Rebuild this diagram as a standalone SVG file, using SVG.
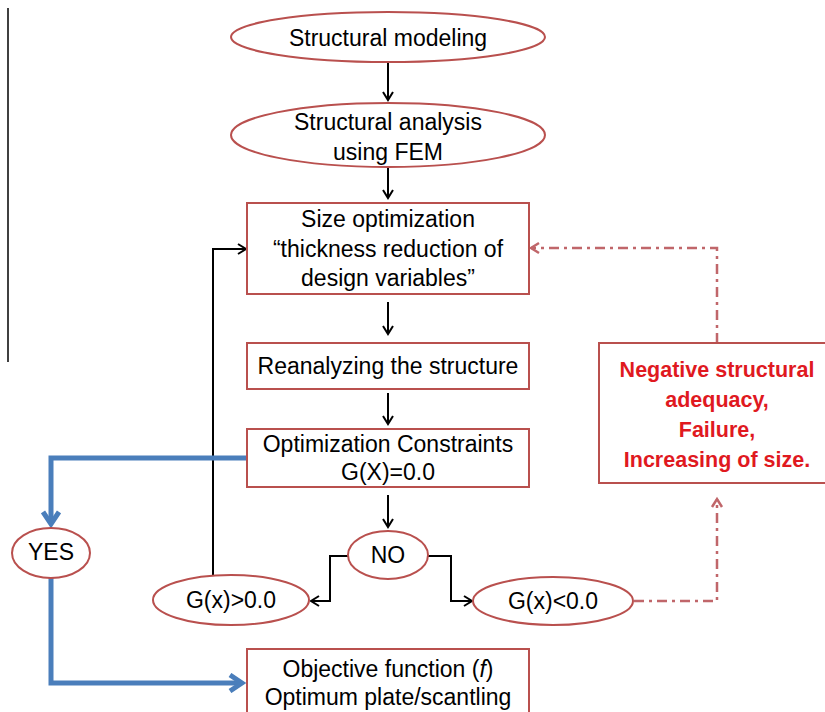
<svg xmlns="http://www.w3.org/2000/svg" width="825" height="712" viewBox="0 0 825 712">
<defs>
<style>
.n{fill:#fff;stroke:#b9504e;stroke-width:2}
.t{font-family:"Liberation Sans",Arial,sans-serif;font-size:23px;fill:#000;text-anchor:middle}
.r{font-family:"Liberation Sans",Arial,sans-serif;font-size:21.5px;font-weight:bold;fill:#e0191f;text-anchor:middle}
.k{fill:none;stroke:#000;stroke-width:2}
.b{fill:none;stroke:#4a7ebb;stroke-width:5}
.d{fill:none;stroke:#c0666a;stroke-width:2.5;stroke-dasharray:10,5,3,5}
</style>
<marker id="ak" markerWidth="12" markerHeight="12" refX="10" refY="6" orient="auto" markerUnits="userSpaceOnUse">
<path d="M2,1 L10,6 L2,11" fill="none" stroke="#000" stroke-width="2"/>
</marker>
<marker id="ab" markerWidth="20" markerHeight="20" refX="16" refY="10" orient="auto" markerUnits="userSpaceOnUse">
<path d="M4,2 L16,10 L4,18" fill="none" stroke="#4a7ebb" stroke-width="5"/>
</marker>
<marker id="ad" markerWidth="14" markerHeight="14" refX="11" refY="7" orient="auto" markerUnits="userSpaceOnUse">
<path d="M3,2 L11,7 L3,12" fill="none" stroke="#c0666a" stroke-width="2.5"/>
</marker>
</defs>
<rect width="825" height="712" fill="#fff"/>
<line x1="8" y1="8" x2="8" y2="362" stroke="#000" stroke-width="1.5"/>

<g id="connectors">
<line class="k" x1="388" y1="63" x2="388" y2="100" marker-end="url(#ak)"/>
<line class="k" x1="388" y1="168" x2="388" y2="198" marker-end="url(#ak)"/>
<line class="k" x1="388" y1="302" x2="388" y2="334" marker-end="url(#ak)"/>
<line class="k" x1="388" y1="393" x2="388" y2="424" marker-end="url(#ak)"/>
<line class="k" x1="388" y1="495" x2="388" y2="527" marker-end="url(#ak)"/>
<polyline class="k" points="348,556 330,556 330,601 311,601" marker-end="url(#ak)"/>
<polyline class="k" points="427,556 451,556 451,601 472,601" marker-end="url(#ak)"/>
<polyline class="k" points="213,576 213,249 246,249" marker-end="url(#ak)"/>
<polyline class="b" points="247,458 51,458 51,524" marker-end="url(#ab)"/>
<polyline class="b" points="51,578 51,683 242,683" marker-end="url(#ab)"/>
<polyline class="d" points="717,343 717,248 531,248" marker-end="url(#ad)"/>
<polyline class="d" points="634,601 717,601 717,499" marker-end="url(#ad)"/>
</g>

<g id="n1"><ellipse class="n" cx="388" cy="37" rx="157" ry="25"/><text class="t" x="388" y="46">Structural modeling</text></g>
<g id="n2"><ellipse class="n" cx="388" cy="135" rx="157" ry="32"/><text class="t" x="388" y="130">Structural analysis</text><text class="t" x="388" y="160">using FEM</text></g>
<g id="n3"><rect class="n" x="247" y="203" width="282" height="91"/><text class="t" x="388" y="227">Size optimization</text><text class="t" x="388" y="257">“thickness reduction of</text><text class="t" x="388" y="286">design variables”</text></g>
<g id="n4"><rect class="n" x="247" y="343" width="282" height="46"/><text class="t" x="388" y="374">Reanalyzing the structure</text></g>
<g id="n5"><rect class="n" x="247" y="429" width="282" height="58"/><text class="t" x="388" y="452">Optimization Constraints</text><text class="t" x="388" y="480">G(X)=0.0</text></g>
<g id="n6"><ellipse class="n" cx="388" cy="555" rx="40" ry="24"/><text class="t" x="388" y="563">NO</text></g>
<g id="n7"><ellipse class="n" cx="231" cy="600" rx="78" ry="25"/><text class="t" x="231" y="608">G(x)&gt;0.0</text></g>
<g id="n8"><ellipse class="n" cx="553" cy="601" rx="80" ry="24"/><text class="t" x="553" y="609">G(x)&lt;0.0</text></g>
<g id="n9"><ellipse class="n" cx="51" cy="553" rx="39" ry="25"/><text class="t" x="51" y="560">YES</text></g>
<g id="n10"><rect class="n" x="247" y="649" width="282" height="80"/><text class="t" x="388" y="677">Objective function (<tspan font-style="italic">f</tspan>)</text><text class="t" x="388" y="705">Optimum plate/scantling</text></g>
<g id="n11"><rect class="n" x="599" y="343" width="240" height="140"/><text class="r" x="717" y="377">Negative structural</text><text class="r" x="717" y="407">adequacy,</text><text class="r" x="717" y="437">Failure,</text><text class="r" x="717" y="467">Increasing of size.</text></g>
</svg>
